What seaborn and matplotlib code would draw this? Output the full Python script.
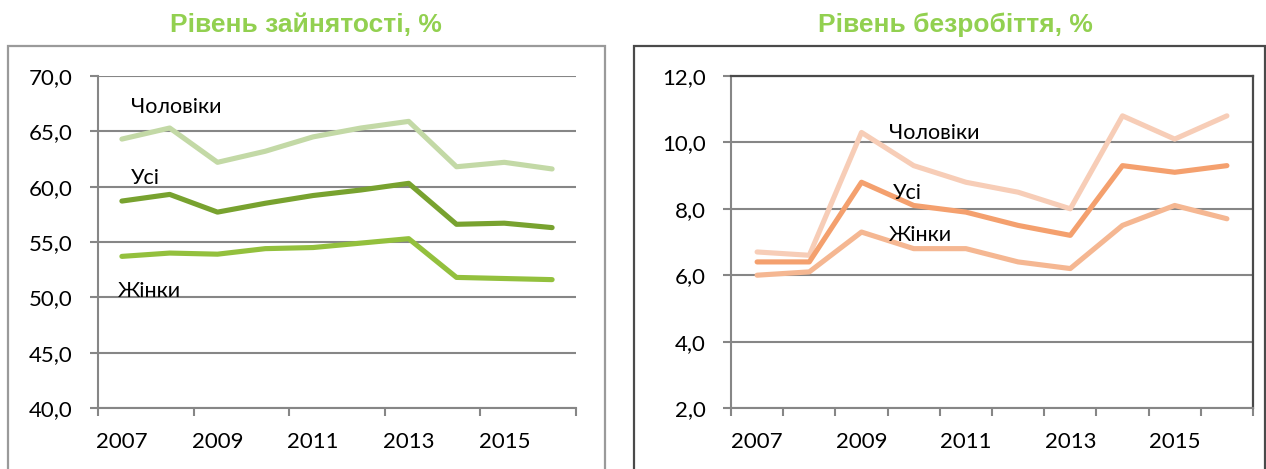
import numpy as np
import pandas as pd
import matplotlib
matplotlib.use("Agg")
import matplotlib.pyplot as plt
import seaborn as sns
from matplotlib.patches import Rectangle
from matplotlib.ticker import FixedLocator, FuncFormatter

years = list(range(2007, 2017))
groups = ["Чоловіки", "Усі", "Жінки"]

# Рівень зайнятості, %
empl_men = [64.3, 65.3, 62.2, 63.2, 64.5, 65.3, 65.9, 61.8, 62.2, 61.6]
empl_all = [58.7, 59.3, 57.7, 58.5, 59.2, 59.7, 60.3, 56.6, 56.7, 56.3]
empl_women = [53.7, 54.0, 53.9, 54.4, 54.5, 54.9, 55.3, 51.8, 51.7, 51.6]

# Рівень безробіття, %
unempl_men = [6.7, 6.6, 10.3, 9.3, 8.8, 8.5, 8.0, 10.8, 10.1, 10.8]
unempl_all = [6.4, 6.4, 8.8, 8.1, 7.9, 7.5, 7.2, 9.3, 9.1, 9.3]
unempl_women = [6.0, 6.1, 7.3, 6.8, 6.8, 6.4, 6.2, 7.5, 8.1, 7.7]

green_colors = ["#c3d9a6", "#78a22f", "#93c03d"]
orange_colors = ["#f7cdb7", "#f4a06e", "#f5b792"]
title_color = "#92d050"


def to_long(men, total, women):
    frames = []
    for name, vals in zip(groups, [men, total, women]):
        frames.append(pd.DataFrame({"year": years, "value": vals, "group": name}))
    return pd.concat(frames, ignore_index=True)


sns.set_theme(style="white")
plt.rcParams["font.family"] = ["Lato", "DejaVu Sans"]
plt.rcParams["ytick.major.pad"] = 12
plt.rcParams["ytick.labelsize"] = 16
plt.rcParams["xtick.labelsize"] = 16

W, H = 1266, 469
fig = plt.figure(figsize=(W / 100, H / 100), dpi=100)


def fx(px):
    return px / W


def fy(py):
    return 1 - py / H


# outer frames around each chart
fig.patches.append(Rectangle((fx(8), fy(475)), fx(597), (475 - 46) / H, transform=fig.transFigure,
                             fill=False, edgecolor="#9a9a9a", linewidth=1.6))
fig.patches.append(Rectangle((fx(634), fy(475)), fx(631), (475 - 46) / H, transform=fig.transFigure,
                             fill=False, edgecolor="#4a4a4a", linewidth=1.6))

ax1 = fig.add_axes([fx(98), fy(408), fx(576 - 98), (408 - 76) / H])
ax2 = fig.add_axes([fx(731), fy(408), fx(1253 - 731), (408 - 76) / H])


def style_axis(ax, df, palette, ylim, ystep, xtick_step, full_box):
    sns.lineplot(data=df, x="year", y="value", hue="group", palette=palette,
                 linewidth=3.7, legend=False, ax=ax, solid_capstyle="round")
    ax.set_xlim(2006.5, 2016.5)
    ax.set_ylim(*ylim)
    ax.set_xlabel("")
    ax.set_ylabel("")
    yt = np.arange(ylim[0], ylim[1] + 0.01, ystep)
    ax.set_yticks(yt)
    ax.yaxis.set_major_formatter(FuncFormatter(lambda v, p: f"{v:.1f}".replace(".", ",")))
    ax.grid(axis="y", color="#868686", linewidth=1.5)
    ax.set_axisbelow(True)
    # ticks at category borders, labels every second year
    ax.xaxis.set_major_locator(FixedLocator(np.arange(2006.5, 2016.6, xtick_step)))
    ax.xaxis.set_major_formatter(FuncFormatter(lambda v, p: ""))
    ax.xaxis.set_minor_locator(FixedLocator([2007, 2009, 2011, 2013, 2015]))
    ax.xaxis.set_minor_formatter(FuncFormatter(lambda v, p: f"{int(round(v))}"))
    ax.tick_params(axis="x", which="major", direction="out", length=6, width=1.5,
                   color="#868686", bottom=True)
    ax.tick_params(axis="x", which="minor", length=0, pad=17, labelsize=16, labelcolor="black")
    ax.tick_params(axis="y", which="major", direction="out", length=6, width=1.5,
                   color="#868686", left=True, pad=12, labelsize=16, labelcolor="black")
    for s in ["left", "bottom"]:
        ax.spines[s].set_color("#868686")
        ax.spines[s].set_linewidth(1.5)
    if full_box:
        for s in ["top", "right"]:
            ax.spines[s].set_visible(True)
            ax.spines[s].set_color("#4a4a4a")
            ax.spines[s].set_linewidth(1.6)
    else:
        ax.spines["top"].set_visible(False)
        ax.spines["right"].set_visible(False)


style_axis(ax1, to_long(empl_men, empl_all, empl_women), green_colors, (40, 70), 5, 2, False)
style_axis(ax2, to_long(unempl_men, unempl_all, unempl_women), orange_colors, (2, 12), 2, 1, True)

lab_kw = dict(fontsize=15.5, color="black", va="center", ha="left")
ax1.text(2007.19, 67.2, "Чоловіки", **lab_kw)
ax1.text(2007.19, 60.8, "Усі", **lab_kw)
ax1.text(2006.92, 50.6, "Жінки", **lab_kw)

ax2.text(2009.53, 10.28, "Чоловіки", **lab_kw)
ax2.text(2009.6, 8.48, "Усі", **lab_kw)
ax2.text(2009.53, 7.2, "Жінки", **lab_kw)

title_kw = dict(fontsize=19, fontweight="bold", color=title_color, ha="center", va="center",
                family=["Liberation Sans", "DejaVu Sans"])
fig.text(fx(306), fy(25), "Рівень зайнятості, %", **title_kw)
fig.text(fx(955), fy(25), "Рівень безробіття, %", **title_kw)

fig.savefig("out.png", dpi=100, facecolor="white")
